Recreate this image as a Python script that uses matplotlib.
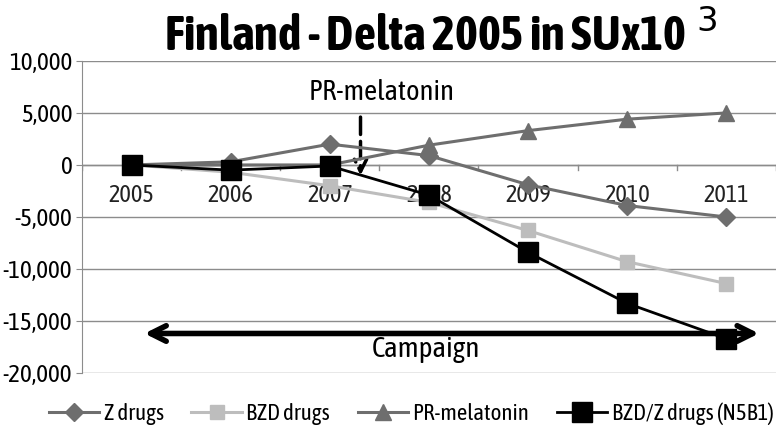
import matplotlib
matplotlib.use("Agg")
import matplotlib.pyplot as plt
from matplotlib import font_manager

# Data (SU x 10^3, delta vs 2005)
years = ["2005", "2006", "2007", "2008", "2009", "2010", "2011"]
z_drugs = [0, 300, 2000, 900, -1900, -3900, -5000]
bzd_drugs = [0, -700, -2000, -3600, -6300, -9300, -11400]
pr_melatonin = [0, 0, 0, 1900, 3300, 4400, 5000]
bzd_z_n5b1 = [0, -500, -100, -2900, -8400, -13300, -16700]

y_ticks = [10000, 5000, 0, -5000, -10000, -15000, -20000]

# the original uses a narrow sans; take a condensed face if one is installed,
# preferring one that also has a bold weight for the title
cands = {}
for f in font_manager.fontManager.ttflist:
    if ("Narrow" in f.name or "Condensed" in f.name) and not any(
            w in f.name for w in ("Light", "Thin", "Black", "Medium", "Semi", "Extra")):
        w = f.weight if isinstance(f.weight, int) else (700 if "bold" in str(f.weight) else 400)
        cands.setdefault(f.name, set()).add(w)
family, scale = "Liberation Sans", 0.9
if cands:
    best = sorted(cands, key=lambda n: (max(cands[n]) < 700, n))[0]
    family, scale = best, 1.0
plt.rcParams["font.family"] = [family, "DejaVu Sans"]

fig = plt.figure(figsize=(7.76, 4.29), dpi=100)
ax = fig.add_axes([0.1057, 0.1305, 0.894, 0.7275])

x = list(range(len(years)))
ax.plot(x, bzd_drugs, color="#bdbdbd", lw=2.2, marker="s", ms=10, label="BZD drugs", zorder=3)
ax.plot(x, z_drugs, color="#6e6e6e", lw=2.2, marker="D", ms=9, label="Z drugs", zorder=4)
ax.plot(x, pr_melatonin, color="#6e6e6e", lw=2.2, marker="^", ms=11, label="PR-melatonin", zorder=4)
ax.plot(x, bzd_z_n5b1, color="black", lw=2, marker="s", ms=14, label="BZD/Z drugs (N5B1)", zorder=5)

ax.set_xlim(-0.5, len(years) - 0.5)
ax.set_ylim(-20000, 10000)
ax.set_yticks(y_ticks)
ax.set_yticklabels([f"{v:,}" for v in y_ticks], fontsize=18 * scale)
ax.yaxis.grid(True, color="#8c8c8c", lw=1)
ax.set_axisbelow(True)
ax.tick_params(axis="y", length=4, color="#8c8c8c", pad=3)

# category axis crossing at zero, labels just below it
ax.set_xticks([])
ax.axhline(0, color="#8c8c8c", lw=1, zorder=1)
for i in range(len(years) + 1):
    ax.plot([i - 0.5, i - 0.5], [0, -500], color="#8c8c8c", lw=1, zorder=1)
for i, yr in enumerate(years):
    ax.text(i, -1800, yr, ha="center", va="top", fontsize=17.5 * scale, color="#222222", zorder=2)

for s in ["top", "right", "bottom"]:
    ax.spines[s].set_visible(False)
ax.spines["left"].set_color("#8c8c8c")

# annotations
ax.annotate("", xy=(2.31, -1000), xytext=(2.31, 4600),
            arrowprops=dict(arrowstyle="->", lw=2.5, ls=(0, (5, 2)), color="black",
                            mutation_scale=22, shrinkA=0, shrinkB=0))
ax.text(2.52, 7000, "PR-melatonin", ha="center", va="center", fontsize=20.5 * scale)
ax.annotate("", xy=(6.33, -16200), xytext=(0.13, -16200),
            arrowprops=dict(arrowstyle="<->", lw=4, color="black", mutation_scale=28,
                            shrinkA=0, shrinkB=0))
ax.text(2.97, -17700, "Campaign", ha="center", va="center", fontsize=21 * scale, zorder=6)

fig.text(0.568, 0.915, r"Finland - Delta 2005 in SUx10$^{\ 3}$", ha="center", va="center",
         fontsize=35 * scale, fontweight="bold")

fig.legend(loc="center", bbox_to_anchor=(0.53, 0.035), ncol=4, frameon=False,
           fontsize=16.5 * scale, handlelength=2.2, columnspacing=1.2, handletextpad=0.2,
           handles=[ax.lines[1], ax.lines[0], ax.lines[2], ax.lines[3]])

fig.savefig("out.png", dpi=100)
